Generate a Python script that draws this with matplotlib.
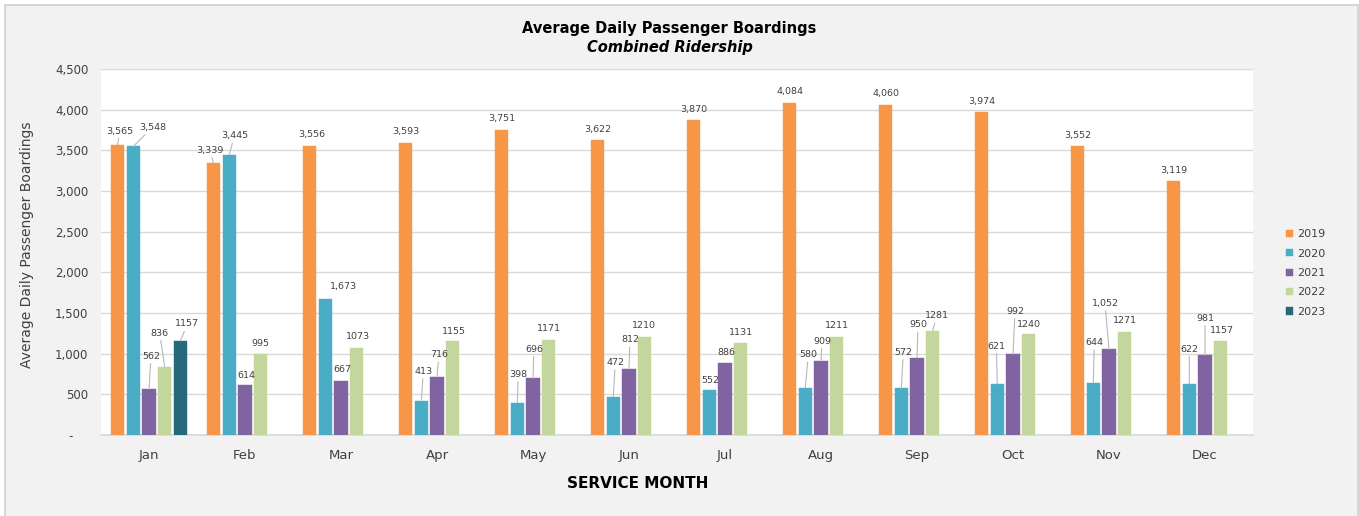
import numpy as np
import matplotlib
matplotlib.use('Agg')
import matplotlib.pyplot as plt
from matplotlib.patches import Rectangle
from matplotlib.ticker import FuncFormatter, MultipleLocator

# data
months = ['Jan', 'Feb', 'Mar', 'Apr', 'May', 'Jun', 'Jul', 'Aug', 'Sep', 'Oct', 'Nov', 'Dec']
years = ['2019', '2020', '2021', '2022', '2023']
v2019 = [3565, 3339, 3556, 3593, 3751, 3622, 3870, 4084, 4060, 3974, 3552, 3119]
v2020 = [3548, 3445, 1673, 413, 398, 472, 552, 580, 572, 621, 644, 622]
v2021 = [562, 614, 667, 716, 696, 812, 886, 909, 950, 992, 1052, 981]
v2022 = [836, 995, 1073, 1155, 1171, 1210, 1131, 1211, 1281, 1240, 1271, 1157]
v2023 = [1157]
series = [v2019, v2020, v2021, v2022, v2023]
use_comma = [True, True, True, False, False]  # 2022/2023 labels have no thousands separator

colors = ['#F79646', '#4BACC6', '#8064A2', '#C3D69B', '#246A7A']

# data label offsets (pixels, dx right / dy up from bar top)
offs = [
    [(2, 14), (-4, 13), (2, 11), (0, 11), (0, 11), (0, 11), (0, 11), (0, 11), (0, 11), (0, 10), (0, 11), (0, 11)],
    [(19, 19), (5, 19), (18, 12), (2, 30), (1, 28), (2, 34), (1, 10), (3, 33), (2, 36), (-1, 38), (1, 40), (0, 35)],
    [(2, 33), (1, 10), (1, 11), (2, 22), (1, 29), (1, 29), (1, 10), (1, 20), (1, 33), (2, 43), (-4, 46), (0, 37)],
    [(-5, 34), (0, 11), (1, 11), (1, 10), (0, 11), (-1, 11), (0, 11), (0, 11), (4, 15), (0, 10), (0, 11), (1, 10)],
    [(7, 17)],
]

txt = '#404040'
plt.rcParams['font.family'] = ['DejaVu Sans']

fig = plt.figure(figsize=(13.59, 5.16), dpi=100, facecolor='white')
# grey chart area with thin border
fig.add_artist(Rectangle((5 / 1359, -0.02), 1353 / 1359, 1.02 - 5 / 516, transform=fig.transFigure,
                         facecolor='#f2f2f2', edgecolor='#d0d0d0', lw=1.2, zorder=-10))

ax = fig.add_axes([101 / 1359, 1 - 435 / 516, 1152 / 1359, 366 / 516])
ax.set_facecolor('white')

slot = 0.1635
bw = 0.139
x = np.arange(len(months))
for i, vals in enumerate(series):
    xs = x[:len(vals)] + (i - 2) * slot
    ax.bar(xs, vals, width=bw, color=colors[i], edgecolor=colors[i], lw=0.3, zorder=3, label=years[i])
    for j, v in enumerate(vals):
        s = f'{v:,}' if use_comma[i] else str(v)
        dx, dy = offs[i][j]
        ap = None
        if dy >= 13:
            ap = dict(arrowstyle='-', color='#b8b8b8', lw=0.8, shrinkA=0, shrinkB=0)
        ax.annotate(s, xy=(xs[j], v), xytext=(dx, dy), textcoords='offset pixels',
                    ha='center', va='center', fontsize=6.8, color=txt, arrowprops=ap, zorder=5)

ax.set_xlim(-0.5, 11.5)
ax.set_ylim(0, 4500)
ax.yaxis.set_major_locator(MultipleLocator(500))
ax.yaxis.set_major_formatter(FuncFormatter(lambda v, p: '-    ' if v == 0 else f'{int(v):,}'))
ax.set_xticks(x)
ax.set_xticklabels(months)
ax.tick_params(axis='both', length=0, colors=txt)
ax.tick_params(axis='y', labelsize=8.5, pad=9)
ax.tick_params(axis='x', labelsize=9.5, pad=10)
ax.grid(axis='y', color='#d9d9d9', lw=1.0)
ax.set_axisbelow(True)
for sp in ['left', 'right', 'top']:
    ax.spines[sp].set_visible(False)
ax.spines['bottom'].set_color('#d9d9d9')
ax.spines['bottom'].set_linewidth(1.2)

# titles
fig.text(0.4926, 1 - 28 / 516, 'Average Daily Passenger Boardings', ha='center', va='center',
         fontsize=10.5, fontweight='bold', color='black')
fig.text(0.4926, 1 - 48 / 516, 'Combined Ridership', ha='center', va='center',
         fontsize=10.5, fontweight='bold', fontstyle='italic', color='black')
fig.text(638 / 1359, 1 - 483 / 516, 'SERVICE MONTH', ha='center', va='center',
         fontsize=11, fontweight='bold', color='black')
fig.text(27 / 1359, 1 - 245 / 516, 'Average Daily Passenger Boardings', ha='center', va='center',
         rotation=90, fontsize=10, color=txt)

ax.legend(loc='center left', bbox_to_anchor=(1286 / 1359, 1 - 273 / 516), bbox_transform=fig.transFigure,
          frameon=False, fontsize=8, handlelength=0.6, handleheight=0.6, handletextpad=0.4,
          labelspacing=0.85, borderpad=0, borderaxespad=0, labelcolor=txt)

plt.savefig('out.png', dpi=100, facecolor=fig.get_facecolor())
